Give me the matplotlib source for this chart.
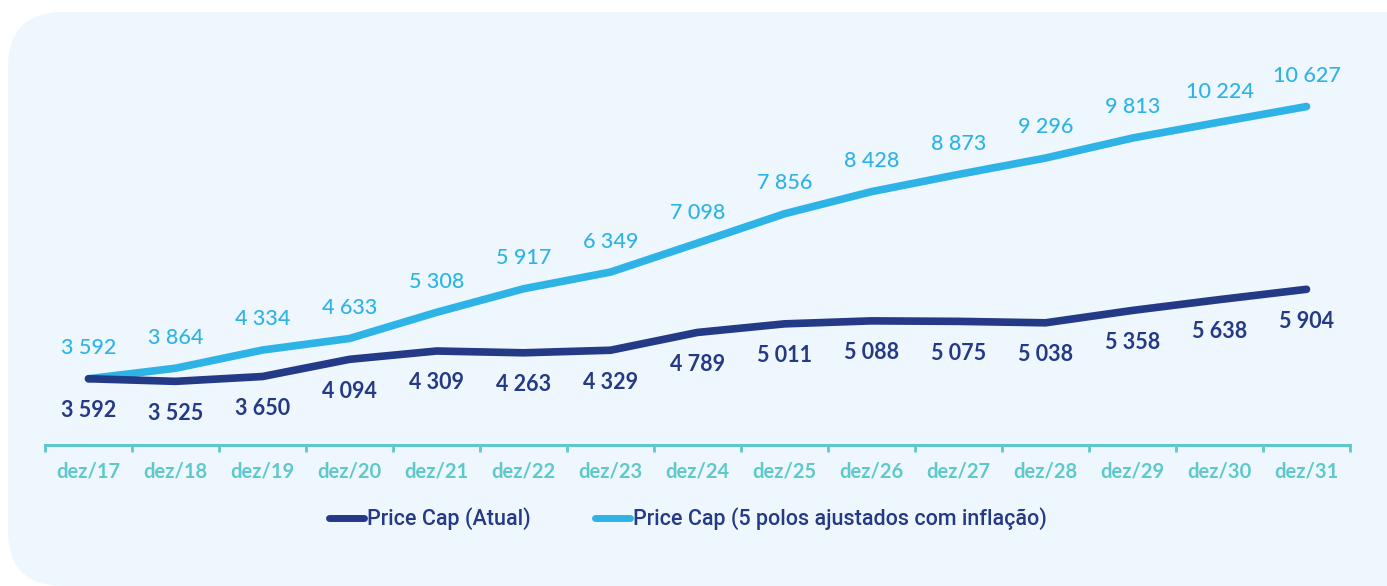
import matplotlib
matplotlib.use("Agg")
import matplotlib.pyplot as plt
from matplotlib.patches import FancyBboxPatch
from matplotlib.lines import Line2D

categories = ["dez/17", "dez/18", "dez/19", "dez/20", "dez/21", "dez/22", "dez/23", "dez/24",
              "dez/25", "dez/26", "dez/27", "dez/28", "dez/29", "dez/30", "dez/31"]
atual = [3592, 3525, 3650, 4094, 4309, 4263, 4329, 4789, 5011, 5088, 5075, 5038, 5358, 5638, 5904]
ajustado = [3592, 3864, 4334, 4633, 5308, 5917, 6349, 7098, 7856, 8428, 8873, 9296, 9813, 10224, 10627]
series_names = ["Price Cap (Atual)", "Price Cap (5 polos ajustados com inflação)"]

DARK = "#243a86"
LIGHT = "#2db3e6"
TEAL = "#5ec8ca"
BG = "#eff7fe"

def fmt(v):
    return f"{v:,}".replace(",", " ")

fig = plt.figure(figsize=(13.87, 5.86), dpi=100)
fig.patch.set_facecolor("white")
bg = FancyBboxPatch((8 / 1387, 0.0), (1387 - 8) / 1387 + 0.05, (586 - 12) / 586,
                    boxstyle="round,pad=0,rounding_size=0.04", transform=fig.transFigure,
                    facecolor=BG, edgecolor="none", zorder=-10, mutation_aspect=1387 / 586)
fig.patches.append(bg)

ax = fig.add_axes([45 / 1387, (586 - 445) / 586, (1350 - 45) / 1387, (445 - 60) / 586])
ax.set_zorder(5)
ax.set_facecolor("none")
x = list(range(len(categories)))
ax.plot(x, ajustado, color=LIGHT, lw=5.5, solid_capstyle="round", solid_joinstyle="round", zorder=3)
ax.plot(x, atual, color=DARK, lw=5.5, solid_capstyle="round", solid_joinstyle="round", zorder=4)

ax.set_xlim(-0.5, 14.5)
ax.set_ylim(1880, 11830)

for xi, v in zip(x, ajustado):
    ax.annotate(fmt(v), (xi, v), xytext=(0, 22), textcoords="offset points", ha="center", va="center",
                fontsize=15.5, color=LIGHT, family="Lato", fontweight="medium")
for xi, v in zip(x, atual):
    ax.annotate(fmt(v), (xi, v), xytext=(0, -23), textcoords="offset points", ha="center", va="center",
                fontsize=15.5, color=DARK, family="Lato", fontweight="bold")

for s in ["top", "right", "left"]:
    ax.spines[s].set_visible(False)
ax.spines["bottom"].set_color(TEAL)
ax.spines["bottom"].set_linewidth(2.2)
ax.set_yticks([])
ax.set_xticks([i - 0.5 for i in range(len(categories) + 1)])
ax.set_xticklabels([])
ax.tick_params(axis="x", length=5, width=2, color=TEAL)
ax.set_xticks(x, minor=True)
ax.set_xticklabels(categories, minor=True)
ax.tick_params(axis="x", which="minor", length=0, pad=12, labelsize=14.5, labelcolor=TEAL)
for lbl in ax.get_xticklabels(minor=True):
    lbl.set_family("Lato")
    lbl.set_fontweight("bold")

handles = [Line2D([], [], color=DARK, lw=5, solid_capstyle="round"),
           Line2D([], [], color=LIGHT, lw=5, solid_capstyle="round")]
leg = fig.legend(handles, series_names, loc="center", bbox_to_anchor=(688 / 1387, (586 - 519) / 586),
                 ncol=2, frameon=False, handlelength=1.6, handletextpad=0.15, columnspacing=3.0,
                 prop={"family": "Roboto", "size": 15.5, "weight": "medium"})
leg.set_zorder(6)
for t in leg.get_texts():
    t.set_color(DARK)

fig.savefig("out.png", dpi=100, facecolor=fig.get_facecolor())
